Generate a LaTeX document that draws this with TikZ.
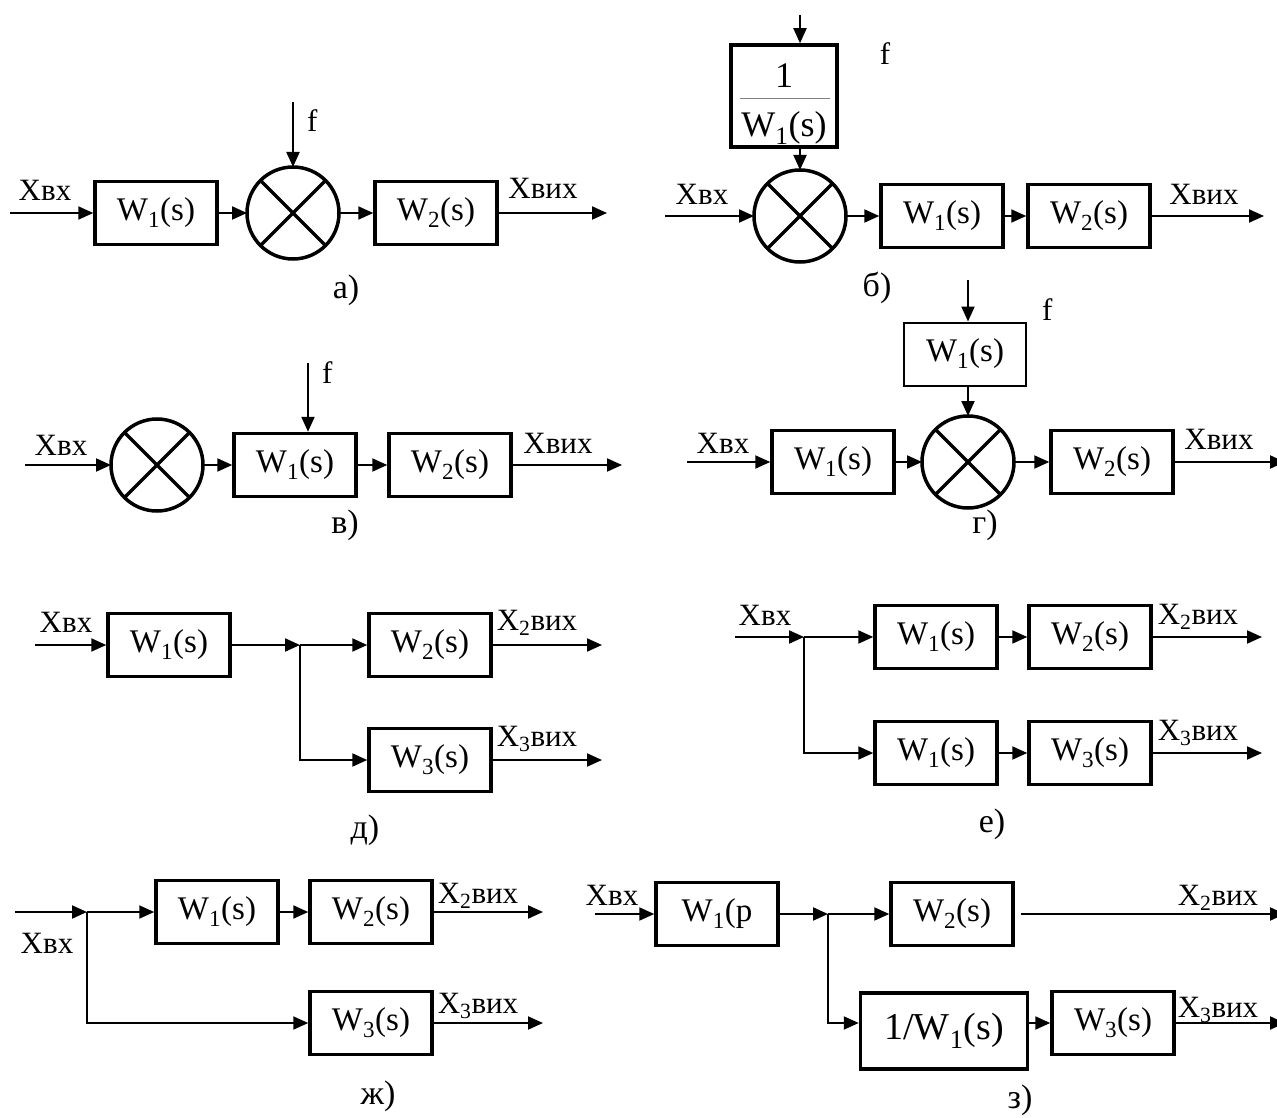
\documentclass[tikz,border=0pt]{standalone}
\usepackage{fontspec}
\setmainfont{Liberation Serif}
\usetikzlibrary{arrows.meta}

\begin{document}
\begin{tikzpicture}[x=1pt,y=-1pt,
  blk/.style={draw,line width=3.5pt,minimum width=122pt,minimum height=63pt,inner sep=0pt,font=\fontsize{33}{40}\selectfont},
  thinblk/.style={blk,line width=2pt},
  sumn/.style={draw,circle,line width=3.5pt,minimum size=92pt,inner sep=0pt,outer sep=0pt},
  lbl/.style={anchor=base,inner sep=0pt,font=\fontsize{31}{37}\selectfont},
  capt/.style={anchor=base,inner sep=0pt,font=\fontsize{34}{40}\selectfont},
  arr/.style={line width=2pt,-{Triangle[length=15pt,width=13pt]}}]
\useasboundingbox (0,0) rectangle (1277,1118);

% a)
\node[blk] (aW1) at (156,213) {W\textsubscript{1}(s)};
\node[sumn] (aS) at (293,213) {};
\node[blk] (aW2) at (436,213) {W\textsubscript{2}(s)};
\coordinate (ain) at (10,213);
\coordinate (aout) at (607,213);
\coordinate (af) at (293,102);
\draw[arr] (ain) -- (aW1);
\draw[arr] (aW1) -- (aS);
\draw[arr] (aS) -- (aW2);
\draw[arr] (aW2) -- (aout);
\draw[arr] (af) -- (aS.north);
\node[lbl] (aXin) at (45,201) {Xвх};
\node[lbl] (aXout) at (543,199) {Xвих};
\node[lbl,anchor=base west] (af) at (307,132) {f};
\node[capt] (acap) at (346,298) {а)};

% b)
\coordinate (bf) at (800,15);
\node[blk,minimum width=106pt,minimum height=102pt] (bF) at (784,96) {};
\node[inner sep=0pt,font=\fontsize{36}{42}\selectfont] (bnum) at (784,76) {1};
\node[inner sep=0pt,font=\fontsize{36}{42}\selectfont] (bden) at (784,128) {W\textsubscript{1}(s)};
\draw[line width=1pt,gray] (740,99) -- (830,99);
\node[sumn] (bS) at (800,216) {};
\node[blk] (bW1) at (942,216) {W\textsubscript{1}(s)};
\node[blk] (bW2) at (1089,216) {W\textsubscript{2}(s)};
\coordinate (bin) at (665,216);
\coordinate (bout) at (1264,216);
\draw[arr] (bf) -- (bf |- bF.north);
\draw[arr] (bf |- bF.south) -- (bS.north);
\draw[arr] (bin) -- (bS);
\draw[arr] (bS) -- (bW1);
\draw[arr] (bW1) -- (bW2);
\draw[arr] (bW2) -- (bout);
\node[lbl] (bXin) at (702,205) {Xвх};
\node[lbl] (bXout) at (1204,205) {Xвих};
\node[lbl] (bflbl) at (885,65) {f};
\node[capt] (bcap) at (877,296) {б)};

% v)
\node[sumn] (vS) at (157,465) {};
\node[blk] (vW1) at (295,465) {W\textsubscript{1}(s)};
\node[blk] (vW2) at (450,465) {W\textsubscript{2}(s)};
\coordinate (vin) at (25,465);
\coordinate (vout) at (622,465);
\coordinate (vf) at (308,363);
\draw[arr] (vin) -- (vS);
\draw[arr] (vS) -- (vW1);
\draw[arr] (vW1) -- (vW2);
\draw[arr] (vW2) -- (vout);
\draw[arr] (vf) -- (vf |- vW1.north);
\node[lbl] (vXin) at (61,455) {Xвх};
\node[lbl] (vXout) at (558,453) {Xвих};
\node[lbl,anchor=base west] (vflbl) at (322,383) {f};
\node[capt] (vcap) at (345,533) {в)};

% g)
\coordinate (gf) at (968,280);
\node[thinblk] (gW0) at (965,354) {W\textsubscript{1}(s)};
\node[sumn] (gS) at (968,462) {};
\node[blk] (gW1) at (833,462) {W\textsubscript{1}(s)};
\node[blk] (gW2) at (1112,462) {W\textsubscript{2}(s)};
\coordinate (gin) at (687,462);
\coordinate (gout) at (1285,462);
\draw[arr] (gf) -- (gf |- gW0.north);
\draw[arr] (gf |- gW0.south) -- (gS.north);
\draw[arr] (gin) -- (gW1);
\draw[arr] (gW1) -- (gS);
\draw[arr] (gS) -- (gW2);
\draw[arr] (gW2) -- (gout);
\node[lbl] (gXin) at (723,453) {Xвх};
\node[lbl] (gXout) at (1219,449) {Xвих};
\node[lbl,anchor=base west] (gflbl) at (1042,320) {f};
\node[capt] (gcap) at (985,533) {г)};

% d)
\node[blk] (dW1) at (169,645) {W\textsubscript{1}(s)};
\coordinate (dj) at (300,645);
\node[blk] (dW2) at (430,645) {W\textsubscript{2}(s)};
\node[blk] (dW3) at (430,760) {W\textsubscript{3}(s)};
\coordinate (din) at (35,645);
\coordinate (dout2) at (602,645);
\coordinate (dout3) at (602,760);
\draw[arr] (din) -- (dW1);
\draw[arr] (dW1) -- (dj);
\draw[arr] (dj) -- (dW2);
\draw[arr] (dj) |- (dW3);
\draw[arr] (dW2) -- (dout2);
\draw[arr] (dW3) -- (dout3);
\node[lbl] (dXin) at (66,632) {Xвх};
\node[lbl] (dX2) at (537,630) {X\textsubscript{2}вих};
\node[lbl] (dX3) at (537,746) {X\textsubscript{3}вих};
\node[capt] (dcap) at (365,838) {д)};

% e)
\coordinate (ein) at (735,637);
\coordinate (ej) at (804,637);
\node[blk] (eW1a) at (936,637) {W\textsubscript{1}(s)};
\node[blk] (eW2) at (1090,637) {W\textsubscript{2}(s)};
\node[blk] (eW1b) at (936,753) {W\textsubscript{1}(s)};
\node[blk] (eW3) at (1090,753) {W\textsubscript{3}(s)};
\coordinate (eout2) at (1262,637);
\coordinate (eout3) at (1262,753);
\draw[arr] (ein) -- (ej);
\draw[arr] (ej) -- (eW1a);
\draw[arr] (eW1a) -- (eW2);
\draw[arr] (eW2) -- (eout2);
\draw[arr] (ej) |- (eW1b);
\draw[arr] (eW1b) -- (eW3);
\draw[arr] (eW3) -- (eout3);
\node[lbl] (eXin) at (765,625) {Xвх};
\node[lbl] (eX2) at (1198,624) {X\textsubscript{2}вих};
\node[lbl] (eX3) at (1198,740) {X\textsubscript{3}вих};
\node[capt] (ecap) at (992,832) {е)};

% zh)
\coordinate (zin) at (15,912);
\coordinate (zj) at (87,912);
\node[blk] (zW1) at (217,912) {W\textsubscript{1}(s)};
\node[blk] (zW2) at (371,912) {W\textsubscript{2}(s)};
\node[blk] (zW3) at (371,1023) {W\textsubscript{3}(s)};
\coordinate (zout2) at (543,912);
\coordinate (zout3) at (543,1023);
\draw[arr] (zin) -- (zj);
\draw[arr] (zj) -- (zW1);
\draw[arr] (zW1) -- (zW2);
\draw[arr] (zW2) -- (zout2);
\draw[arr] (zj) |- (zW3);
\draw[arr] (zW3) -- (zout3);
\node[lbl] (zXin) at (47,953) {Xвх};
\node[lbl] (zX2) at (478,903) {X\textsubscript{2}вих};
\node[lbl] (zX3) at (478,1013) {X\textsubscript{3}вих};
\node[capt] (zcap) at (378,1104) {ж)};

% z)
\coordinate (hin) at (595,914);
\node[blk] (hW1) at (717,914) {W\textsubscript{1}(p};
\coordinate (hj) at (828,914);
\node[blk] (hW2) at (952,914) {W\textsubscript{2}(s)};
\coordinate (hout2) at (1285,914);
\node[blk,minimum width=167pt,minimum height=76pt,font=\fontsize{38}{44}\selectfont] (hWi) at (944,1031) {1/W\textsubscript{1}(s)};
\node[blk] (hW3) at (1113,1023) {W\textsubscript{3}(s)};
\coordinate (hk) at (828,1023);
\coordinate (hout3) at (1285,1023);
\draw[arr] (hin) -- (hW1);
\draw[arr] (hW1) -- (hj);
\draw[arr] (hj) -- (hW2);
\draw[arr] ([xshift=6pt]hW2.east) -- (hout2);
\draw[arr] (hj) -- (hk) -- (hk -| hWi.west);
\draw[arr] (hk -| hWi.east) -- (hW3);
\draw[arr] (hW3) -- (hout3);
\node[lbl] (hXin) at (612,905) {Xвх};
\node[lbl] (hX2) at (1218,905) {X\textsubscript{2}вих};
\node[lbl] (hX3) at (1218,1017) {X\textsubscript{3}вих};
\node[capt] (hcap) at (1020,1108) {з)};

% crosses in the summing points
\foreach \s in {aS,bS,vS,gS}
  \draw[line width=3.5pt] (\s.45) -- (\s.225) (\s.135) -- (\s.315);
\end{tikzpicture}
\end{document}
